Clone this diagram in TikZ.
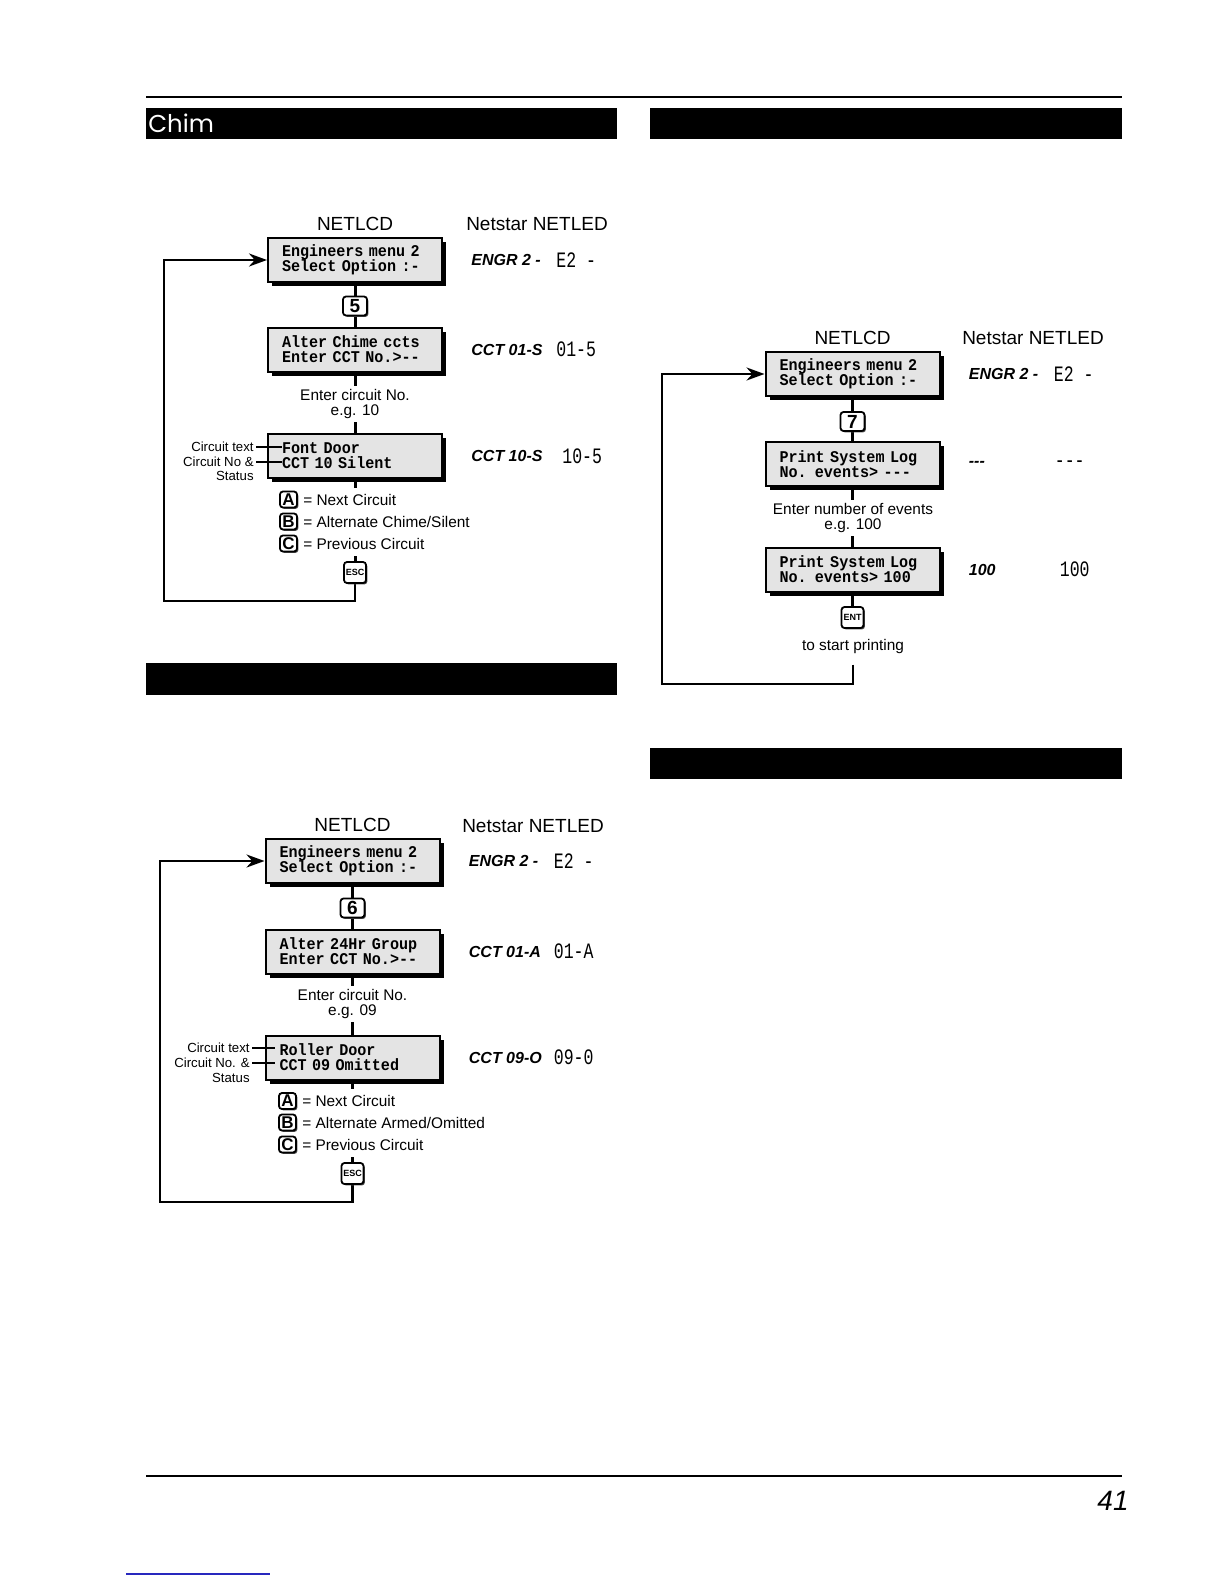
\documentclass[tikz,border=0pt]{standalone}
\usepackage{fontspec}
\setmainfont{Liberation Sans}
\newfontfamily\lcdfamily{Liberation Mono}[FakeStretch=0.92]
\newfontfamily\ledfamily{Liberation Mono}[FakeStretch=0.75]
\newfontfamily\headfamily{Poppins}
\usetikzlibrary{arrows.meta, positioning, shadows, backgrounds}
\definecolor{lcdgray}{RGB}{228, 228, 228}
\definecolor{linkblue}{RGB}{40, 40, 190}
\newcommand\lcdsize{\lcdfamily\bfseries\fontsize{8.2}{7.5}\selectfont\lineskiplimit=-10pt\relax}

\begin{document}
\begin{tikzpicture}[
      x=0.5pt, y=-0.5pt,
      lcd/.style={rectangle, draw, line width=1pt, fill=lcdgray, minimum width=87pt, minimum height=22pt, text width=73pt, inner xsep=7pt, inner ysep=0pt, align=left, font=\lcdsize, drop shadow={shadow xshift=2pt, shadow yshift=-2pt, fill=black, opacity=1}},
      btn/.style={rectangle, draw, line width=0.9pt, rounded corners=1.5pt, fill=white, inner sep=0pt, drop shadow={shadow xshift=0.7pt, shadow yshift=-0.7pt, fill=black!70, opacity=1}},
      numbtn/.style={btn, minimum width=12pt, minimum height=9.5pt, font=\bfseries\fontsize{9.5}{10}\selectfont},
      letbtn/.style={btn, minimum width=8.5pt, minimum height=8pt, font=\bfseries\fontsize{8.5}{9}\selectfont},
      fnbtn/.style={btn, minimum width=11pt, minimum height=10.5pt, font=\bfseries\fontsize{4.5}{5}\selectfont},
      hdr/.style={font=\fontsize{9.5}{11}\selectfont},
      hint/.style={fill=white, align=center, inner sep=2pt, font=\fontsize{7.7}{7.2}\selectfont},
      btntext/.style={fill=white, minimum height=12pt, inner xsep=1pt, inner ysep=0pt, font=\fontsize{7.7}{9}\selectfont},
      lbl/.style={anchor=east, inner sep=1pt, font=\fontsize{6.6}{7}\selectfont},
      eng/.style={inner sep=0pt, font=\bfseries\itshape\fontsize{8}{9}\selectfont},
      led/.style={inner sep=0pt, font=\ledfamily\fontsize{11}{12}\selectfont},
      conn/.style={line width=1.5pt},
      lead/.style={line width=0.6pt},
      back/.style={line width=1.3pt, -{Stealth[length=9pt, width=6.5pt]}}
    ]
      \useasboundingbox (0,0) rectangle (1224,1584);

      % page furniture
      \draw[line width=1pt] (146,97) -- (1122,97);
      \draw[line width=0.8pt] (146,1476) -- (1122,1476);
      \fill (146,108) rectangle (617,139);
      \fill (650,108) rectangle (1122,139);
      \fill (146,663) rectangle (617,695);
      \fill (650,748) rectangle (1122,779);
      \node[anchor=base west, inner sep=0pt, text=white, font=\headfamily\fontsize{12.2}{14}\selectfont] (chim) at (148,133) {Chim};
      \node[anchor=base east, inner sep=0pt, font=\itshape\fontsize{14}{16}\selectfont] (pageno) at (1129,1510) {41};
      \draw[linkblue, line width=0.6pt] (126,1574) -- (270,1574);

      % chime circuits
      \node[lcd] (lcdA1) at (355,260) {Engineers menu 2\\Select Option :-};
      \node[numbtn] (optA) at (355,306) {5};
      \node[lcd] (lcdA2) at (355,349.5) {Alter Chime ccts\\Enter CCT No.>{-}{-}};
      \node[hint] (hintA) at (355,404) {Enter circuit No.\\e.g. 10};
      \node[lcd] (lcdA3) at (355,456) {Font Door\\CCT 10 Silent};
      \node[hdr, above=-0.5pt of lcdA1] (lcdhdA) {NETLCD};
      \node[hdr] (ledhdA) at (537,224) {Netstar NETLED};
      \node[eng, right=14pt of lcdA1] (engA1) {ENGR 2 -};
      \node[eng, right=14pt of lcdA2] (engA2) {CCT 01-S};
      \node[eng, right=14pt of lcdA3] (engA3) {CCT 10-S};
      \node[led, right=56.5pt of lcdA1] (ledA1) {E2 -};
      \node[led, right=56.5pt of lcdA2] (ledA2) {01-5};
      \node[led, right=59.5pt of lcdA3] (ledA3) {10-5};
      \node[lbl] (ctA1) at (256,447) {Circuit text};
      \node[lbl] (ctA2) at (256,462) {Circuit No \&};
      \node[lbl] (ctA3) at (256,476) {Status};
      \draw[lead] (ctA1.east) -- ++(13pt,0);
      \draw[lead] (ctA2.east) -- ++(13pt,0);
      \node[letbtn] (kA1) at (288.5,499.5) {A};
      \node[btntext, right=1.5pt of kA1] (tA1) {= Next Circuit};
      \node[letbtn] (kA2) at (288.5,521.5) {B};
      \node[btntext, right=1.5pt of kA2] (tA2) {= Alternate Chime/Silent};
      \node[letbtn] (kA3) at (288.5,543.5) {C};
      \node[btntext, right=1.5pt of kA3] (tA3) {= Previous Circuit};
      \node[fnbtn] (escA) at (355,572.5) {ESC};
      \coordinate (cornA) at (164,601);

      % 24hr group
      \node[lcd] (lcdB1) at (352.5,861) {Engineers menu 2\\Select Option :-};
      \node[numbtn] (optB) at (352.5,908) {6};
      \node[lcd] (lcdB2) at (352.5,951.5) {Alter 24Hr Group\\Enter CCT No.>{-}{-}};
      \node[hint] (hintB) at (352.5,1004) {Enter circuit No.\\e.g. 09};
      \node[lcd] (lcdB3) at (352.5,1057.5) {Roller Door\\CCT 09 Omitted};
      \node[hdr, above=-0.5pt of lcdB1] (lcdhdB) {NETLCD};
      \node[hdr] (ledhdB) at (533,826) {Netstar NETLED};
      \node[eng, right=14pt of lcdB1] (engB1) {ENGR 2 -};
      \node[eng, right=14pt of lcdB2] (engB2) {CCT 01-A};
      \node[eng, right=14pt of lcdB3] (engB3) {CCT 09-O};
      \node[led, right=56.5pt of lcdB1] (ledB1) {E2 -};
      \node[led, right=56.5pt of lcdB2] (ledB2) {01-A};
      \node[led, right=56.5pt of lcdB3] (ledB3) {09-0};
      \node[lbl] (ctB1) at (252,1048) {Circuit text};
      \node[lbl] (ctB2) at (252,1063) {Circuit No. \&};
      \node[lbl] (ctB3) at (252,1078) {Status};
      \draw[lead] (ctB1.east) -- ++(11.5pt,0);
      \draw[lead] (ctB2.east) -- ++(11.5pt,0);
      \node[letbtn] (kB1) at (287.5,1101) {A};
      \node[btntext, right=1.5pt of kB1] (tB1) {= Next Circuit};
      \node[letbtn] (kB2) at (287.5,1122.5) {B};
      \node[btntext, right=1.5pt of kB2] (tB2) {= Alternate Armed/Omitted};
      \node[letbtn] (kB3) at (287.5,1144.5) {C};
      \node[btntext, right=1.5pt of kB3] (tB3) {= Previous Circuit};
      \node[fnbtn] (escB) at (352.5,1173.5) {ESC};
      \coordinate (cornB) at (160,1202);

      % system log
      \node[lcd] (lcdC1) at (852.5,374) {Engineers menu 2\\Select Option :-};
      \node[numbtn] (optC) at (852.5,421.5) {7};
      \node[lcd] (lcdC2) at (852.5,464) {Print System Log\\No. events> {-}{-}{-}};
      \node[hint] (hintC) at (853,518) {Enter number of events\\e.g. 100};
      \node[lcd] (lcdC3) at (852.5,569.5) {Print System Log\\No. events> 100};
      \node[fnbtn] (entC) at (852.5,617.5) {ENT};
      \node[hint] (prtC) at (853,647) {to start printing};
      \node[hdr, above=-0.5pt of lcdC1] (lcdhdC) {NETLCD};
      \node[hdr] (ledhdC) at (1033,338) {Netstar NETLED};
      \node[eng, right=14pt of lcdC1] (engC1) {ENGR 2 -};
      \node[eng, right=14pt of lcdC2] (engC2) {{-}{-}{-}};
      \node[eng, right=14pt of lcdC3] (engC3) {100};
      \node[led, right=56.5pt of lcdC1] (ledC1) {E2 -};
      \node[led, right=57pt of lcdC2] (ledC2) {{-}{-}{-}};
      \node[led, right=59.5pt of lcdC3] (ledC3) {100};
      \coordinate (cornC) at (662,684);

      \begin{scope}[on background layer]
        \draw[conn] (lcdA1) -- (lcdA2);
        \draw[conn] (lcdA2) -- (lcdA3);
        \draw[conn] (lcdA3) -- (escA);
        \draw[back] (escA) |- (cornA) |- (lcdA1);
        \draw[conn] (lcdB1) -- (lcdB2);
        \draw[conn] (lcdB2) -- (lcdB3);
        \draw[conn] (lcdB3) -- (escB);
        \draw[back] (escB) |- (cornB) |- (lcdB1);
        \draw[conn] (lcdC1) -- (lcdC2);
        \draw[conn] (lcdC2) -- (lcdC3);
        \draw[conn] (lcdC3) -- (entC);
        \draw[back, shorten <=3pt] (prtC) |- (cornC) |- (lcdC1);
      \end{scope}
    \end{tikzpicture}
\end{document}
